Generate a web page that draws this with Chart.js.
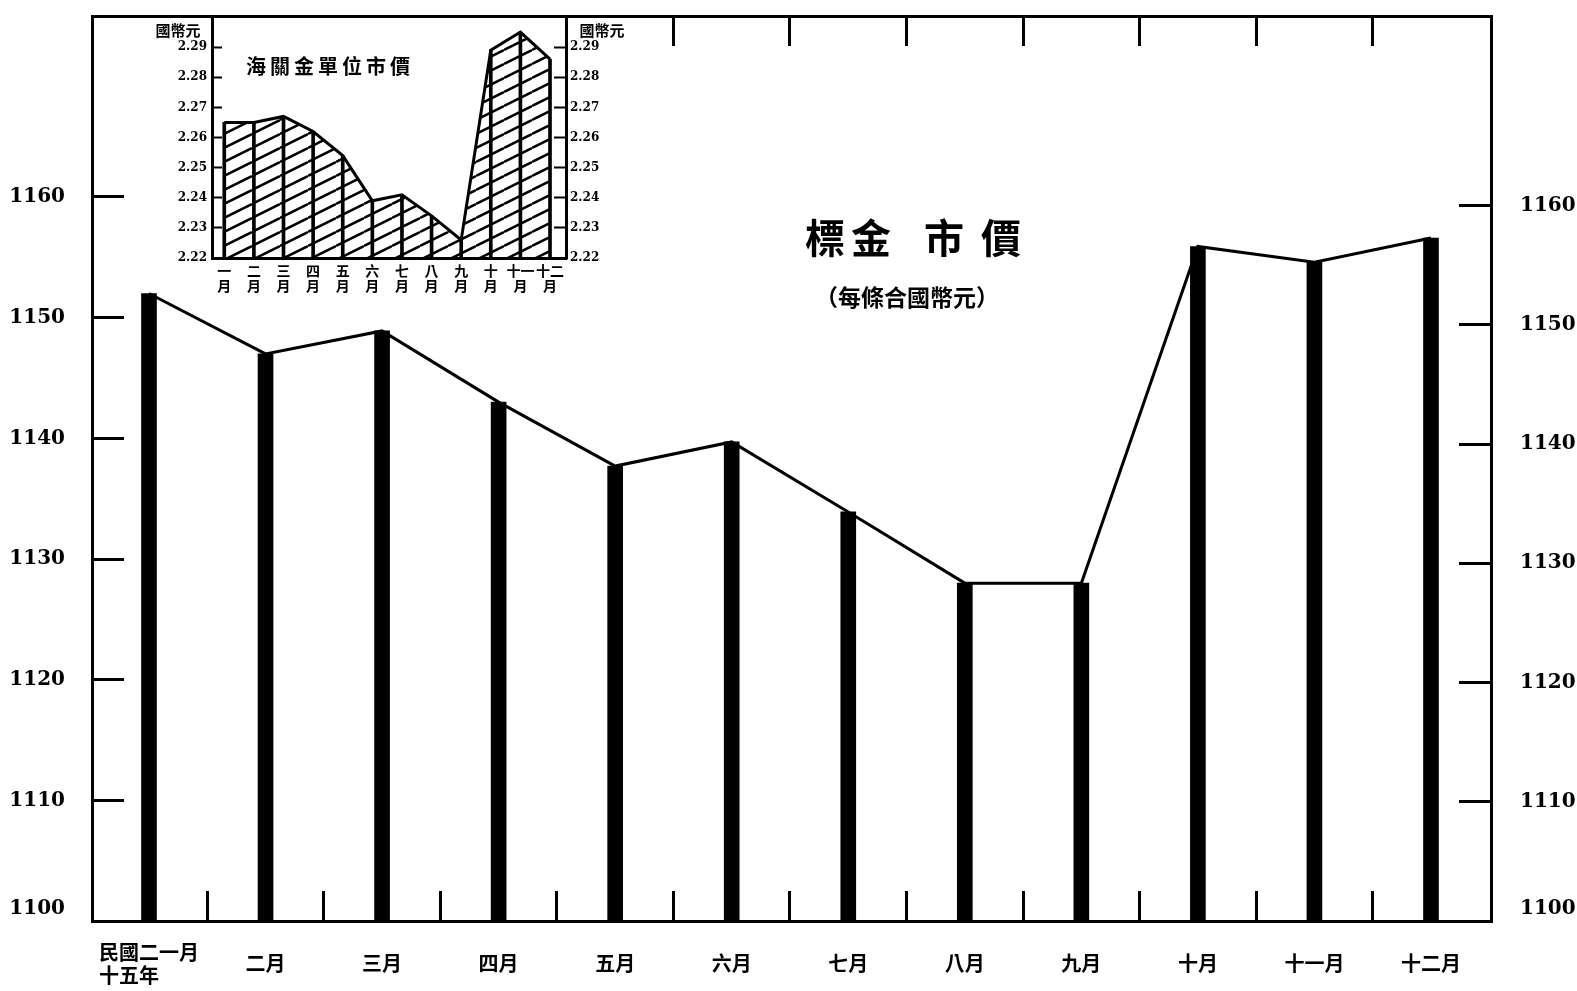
<!DOCTYPE html>
<html>
<head>
<meta charset="utf-8">
<title>標金市價</title>
<script src="https://cdn.jsdelivr.net/npm/chart.js@4.4.1/dist/chart.umd.min.js"></script>
<style>
  html, body { margin: 0; padding: 0; background: #fff; }
  #wrap { position: relative; width: 1577px; height: 991px; }
  #main { position: absolute; left: 0; top: 0; }
  #inset { position: absolute; left: 140px; top: 8px; }
</style>
</head>
<body>
<div id="wrap">
  <canvas id="main" width="1577" height="991"></canvas>
  <canvas id="inset" width="500" height="305"></canvas>
</div>
<script>
// =======================
// Dados
// =======================
const months = ["一月", "二月", "三月", "四月", "五月", "六月", "七月", "八月", "九月", "十月", "十一月", "十二月"];
const yearLabel = ["民國二", "十五年"];
const goldPrice = [1152, 1147, 1148.9, 1143, 1137.7, 1139.7, 1133.9, 1128, 1128, 1155.9, 1154.6, 1156.6];
const priceTicks = [1100, 1110, 1120, 1130, 1140, 1150, 1160];
const topMarks = [4.5, 5.5, 6.5, 7.5, 8.5, 9.5, 10.5];

const insetMonths = [["一", "月"], ["二", "月"], ["三", "月"], ["四", "月"], ["五", "月"], ["六", "月"],
  ["七", "月"], ["八", "月"], ["九", "月"], ["十", "月"], ["十一", "月"], ["十二", "月"]];
const cguPrice = [2.265, 2.265, 2.267, 2.262, 2.254, 2.239, 2.241, 2.234, 2.226, 2.289, 2.295, 2.286];
const cguTicks = [2.22, 2.23, 2.24, 2.25, 2.26, 2.27, 2.28, 2.29];

const CJK = '"Noto Sans CJK TC", "Noto Sans CJK SC", sans-serif';
const SERIF = '"DejaVu Serif", "Liberation Serif", serif';
Chart.defaults.font.family = CJK;
Chart.defaults.color = "#000";

// texto solto desenhado por cima
function textPlugin(items) {
  return {
    id: "texts",
    afterDraw(chart) {
      const ctx = chart.ctx;
      ctx.save();
      ctx.fillStyle = "#000";
      ctx.textAlign = "center";
      ctx.textBaseline = "middle";
      items.forEach((t) => {
        ctx.font = t.font;
        ctx.letterSpacing = t.spacing || "0px";
        ctx.fillText(t.text, t.x, t.y);
      });
      ctx.restore();
    },
  };
}

// fixa o tamanho do eixo e tira o padding automatico
function fixSize(prop, size) {
  return (scale) => {
    scale[prop] = size;
    scale.paddingTop = 0;
    scale.paddingBottom = 0;
    scale.paddingLeft = 0;
    scale.paddingRight = 0;
  };
}

function setTicks(values) {
  return (scale) => {
    scale.ticks = values.map((v) => ({ value: v }));
  };
}

// =======================
// Gráfico principal
// =======================
const mainPoints = goldPrice.map((v, i) => ({ x: i, y: v }));
const halfSteps = [];
for (let i = 0; i <= 22; i++) halfSteps.push(i / 2);

new Chart(document.getElementById("main"), {
  type: "bar",
  data: {
    datasets: [
      {
        type: "line",
        data: mainPoints,
        borderColor: "#000",
        borderWidth: 3,
        pointRadius: 0,
        tension: 0,
        fill: false,
      },
      {
        type: "bar",
        data: mainPoints,
        backgroundColor: "#000",
        barThickness: 15,
        base: 1100,
      },
    ],
  },
  options: {
    responsive: false,
    animation: false,
    devicePixelRatio: 1,
    layout: { padding: { left: 9, right: 2, top: 14, bottom: 0 } },
    plugins: { legend: { display: false }, tooltip: { enabled: false } },
    scales: {
      x: {
        type: "linear",
        position: "bottom",
        offset: false,
        min: -0.489,
        max: 11.515,
        afterBuildTicks: setTicks(halfSteps),
        afterFit: fixSize("height", 70),
        grid: {
          offset: false,
          drawOnChartArea: false,
          tickLength: -30,
          tickWidth: 3,
          tickColor: (ctx) => (ctx.tick && Number.isInteger(ctx.tick.value) ? "rgba(0,0,0,0)" : "#000"),
        },
        border: { display: true, color: "#000", width: 3 },
        ticks: {
          autoSkip: false,
          maxRotation: 0,
          minRotation: 0,
          padding: 61,
          crossAlign: "center",
          font: { size: 20, weight: "bold", lineHeight: 1.15 },
          callback: (v) => {
            if (!Number.isInteger(v)) return "";
            if (v === 0) return [yearLabel[0] + months[0], yearLabel[1] + "\u3000\u3000"];
            return months[v];
          },
        },
      },
      x2: {
        type: "linear",
        axis: "x",
        position: "top",
        offset: false,
        min: -0.489,
        max: 11.515,
        afterBuildTicks: setTicks(topMarks),
        afterFit: fixSize("height", 2),
        grid: { offset: false, drawOnChartArea: false, tickLength: -30, tickWidth: 3, tickColor: "#000" },
        border: { display: true, color: "#000", width: 3 },
        ticks: { display: false },
      },
      y: {
        type: "linear",
        position: "left",
        min: 1100,
        max: 1175,
        afterBuildTicks: setTicks(priceTicks),
        afterFit: fixSize("width", 83),
        grid: { drawOnChartArea: false, tickLength: -32, tickWidth: 3, tickColor: "#000" },
        border: { display: true, color: "#000", width: 3 },
        ticks: {
          autoSkip: false,
          padding: 59,
          font: { family: SERIF, size: 20, weight: "bold" },
          callback: (v) => (v === 1100 ? [String(v), ""] : String(v)),
        },
      },
      y2: {
        type: "linear",
        axis: "y",
        position: "right",
        min: 1100,
        max: 1175.9,
        afterBuildTicks: setTicks(priceTicks),
        afterFit: fixSize("width", 84),
        grid: { drawOnChartArea: false, tickLength: -32, tickWidth: 3, tickColor: "#000" },
        border: { display: true, color: "#000", width: 3 },
        ticks: {
          autoSkip: false,
          padding: 61,
          font: { family: SERIF, size: 20, weight: "bold" },
          callback: (v) => (v === 1100 ? [String(v), ""] : String(v)),
        },
      },
    },
  },
  plugins: [
    textPlugin([
      { text: "標", x: 825, y: 238, font: "bold 40px " + CJK },
      { text: "金", x: 871, y: 238, font: "bold 40px " + CJK },
      { text: "市", x: 944, y: 238, font: "bold 40px " + CJK },
      { text: "價", x: 1001, y: 238, font: "bold 40px " + CJK },
      { text: "（每條合國幣元）", x: 907, y: 297, font: "bold 23px " + CJK },
    ]),
  ],
});

// =======================
// Gráfico pequeno (海關金單位)
// =======================
function makeHatch() {
  const c = document.createElement("canvas");
  c.width = 28;
  c.height = 14;
  const g = c.getContext("2d");
  g.strokeStyle = "#000";
  g.lineWidth = 2.5;
  g.beginPath();
  [-14, 0, 14].forEach((dy) => {
    g.moveTo(0, 14 + dy);
    g.lineTo(28, dy);
  });
  g.stroke();
  return g.createPattern(c, "repeat");
}

const insetPoints = cguPrice.map((v, i) => ({ x: i, y: v }));

new Chart(document.getElementById("inset"), {
  type: "bar",
  data: {
    datasets: [
      {
        type: "line",
        data: insetPoints,
        borderColor: "#000",
        borderWidth: 3,
        pointRadius: 0,
        tension: 0,
        fill: "start",
        backgroundColor: makeHatch(),
      },
      {
        type: "bar",
        data: insetPoints,
        backgroundColor: "#000",
        barThickness: 3,
        base: 2.22,
      },
    ],
  },
  options: {
    responsive: false,
    animation: false,
    devicePixelRatio: 1,
    layout: { padding: { left: 0, right: 0, top: 9, bottom: 0 } },
    plugins: { legend: { display: false }, tooltip: { enabled: false } },
    scales: {
      x: {
        type: "linear",
        offset: false,
        min: -0.415,
        max: 11.54,
        afterBuildTicks: setTicks(months.map((m, i) => i)),
        afterFit: fixSize("height", 55),
        grid: { display: false, drawTicks: false, offset: false },
        border: { display: true, color: "#000", width: 3 },
        ticks: {
          autoSkip: false,
          maxRotation: 0,
          minRotation: 0,
          padding: 5,
          font: { size: 14, weight: "bold", lineHeight: 1.1 },
          callback: (v) => insetMonths[v] || "",
        },
      },
      y: {
        type: "linear",
        position: "left",
        min: 2.22,
        max: 2.3,
        afterBuildTicks: setTicks(cguTicks),
        afterFit: fixSize("width", 72),
        grid: { drawOnChartArea: false, tickLength: -10, tickWidth: 2, tickColor: "#000" },
        border: { display: true, color: "#000", width: 3 },
        ticks: {
          autoSkip: false,
          padding: 15,
          font: { family: SERIF, size: 12, weight: "bold" },
          callback: (v) => v.toFixed(2),
        },
      },
      y2: {
        type: "linear",
        axis: "y",
        position: "right",
        min: 2.22,
        max: 2.3,
        afterBuildTicks: setTicks(cguTicks),
        afterFit: fixSize("width", 74),
        grid: { drawOnChartArea: false, tickLength: -12, tickWidth: 2, tickColor: "#000" },
        border: { display: true, color: "#000", width: 3 },
        ticks: {
          autoSkip: false,
          padding: 16,
          font: { family: SERIF, size: 12, weight: "bold" },
          callback: (v) => v.toFixed(2),
        },
      },
    },
  },
  plugins: [
    textPlugin([
      { text: "海關金單位市價", x: 190, y: 58, font: "bold 20px " + CJK, spacing: "4px" },
      { text: "國幣元", x: 38, y: 22, font: "bold 15px " + CJK },
      { text: "國幣元", x: 462, y: 22, font: "bold 15px " + CJK },
    ]),
  ],
});
</script>
</body>
</html>
